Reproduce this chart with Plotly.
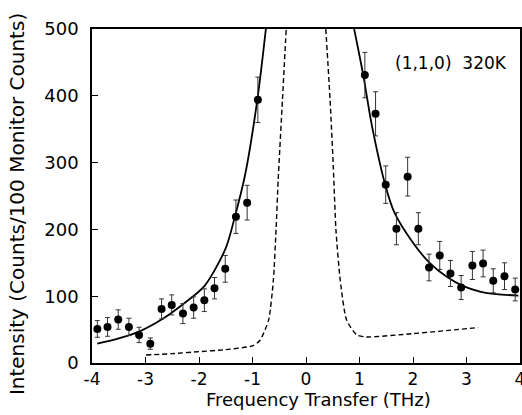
import plotly.graph_objects as go

# Measured data points (Frequency THz, Intensity, error)
data_x = [-3.90, -3.71, -3.51, -3.31, -3.12, -2.91, -2.70, -2.51, -2.30, -2.10, -1.90, -1.71, -1.51, -1.31, -1.10, -0.90,
          1.10, 1.30, 1.49, 1.69, 1.90, 2.10, 2.30, 2.50, 2.70, 2.90, 3.11, 3.31, 3.50, 3.71, 3.91]
data_y = [51, 54, 65, 54, 42, 29, 81, 87, 74, 83, 94, 112, 141, 219, 240, 394,
          431, 373, 267, 201, 279, 201, 143, 161, 134, 113, 146, 149, 123, 130, 110]
data_err = [12.5, 14, 14.5, 13, 11.5, 8.5, 15, 15, 15, 16, 17, 16, 20, 25, 26, 34,
            34, 33, 28, 24, 29, 24, 20, 21, 19.5, 18, 21, 20, 18, 20, 17]

# Solid fitted curve
fit_left_x = [-3.90, -3.50, -3.12, -2.70, -2.30, -1.90, -1.50, -1.33, -1.14, -0.91, -0.75]
fit_left_y = [29, 37, 47, 65, 88, 115, 172, 219, 281, 394, 500]
fit_right_x = [0.90, 1.07, 1.23, 1.49, 1.66, 2.01, 2.32, 2.63, 2.94, 3.25, 3.56, 3.97]
fit_right_y = [500, 431, 356, 264, 224, 179, 149, 129, 115, 107, 103, 101]

# Dashed curve
dash_left_x = [-2.99, -2.5, -2.0, -1.5, -0.99, -0.86, -0.70, -0.61, -0.56, -0.52, -0.44, -0.37]
dash_left_y = [12, 14, 17, 20, 26, 34, 64, 124, 199, 274, 394, 500]
dash_right_x = [0.37, 0.45, 0.51, 0.56, 0.64, 0.76, 0.95, 1.13, 2.0, 3.22]
dash_right_y = [500, 394, 294, 199, 124, 64, 42, 39, 44, 53]

x_ticks = [-4, -3, -2, -1, 0, 1, 2, 3, 4]
x_tick_text = ["-4", "-3", "-2", "-1", "0", "1", "2", "3", "4"]
y_ticks = [0, 100, 200, 300, 400, 500]

x_title = "Frequency Transfer (THz)"
y_title = "Intensity (Counts/100 Monitor Counts)"
label = "(1,1,0)\u00a0\u00a0320K"

FONT = "DejaVu Sans, Verdana, sans-serif"

fig = go.Figure()
for xs, ys in [(fit_left_x, fit_left_y), (fit_right_x, fit_right_y)]:
    fig.add_trace(go.Scatter(x=xs, y=ys, mode="lines",
                             line=dict(color="black", width=1.8, shape="spline", smoothing=0.8),
                             showlegend=False, hoverinfo="skip"))
for xs, ys in [(dash_left_x, dash_left_y), (dash_right_x, dash_right_y)]:
    fig.add_trace(go.Scatter(x=xs, y=ys, mode="lines",
                             line=dict(color="black", width=1.4, dash="5px,3px", shape="spline", smoothing=0.6),
                             showlegend=False, hoverinfo="skip"))
fig.add_trace(go.Scatter(x=data_x, y=data_y, mode="markers",
                         marker=dict(color="black", size=8),
                         error_y=dict(type="data", array=data_err, visible=True,
                                      color="#333", thickness=1, width=2.5),
                         showlegend=False))

fig.add_annotation(x=2.71, y=449, xref="x", yref="y", text=label, showarrow=False,
                   font=dict(family=FONT, size=17, color="#000000"))
fig.add_annotation(x=0.530, y=-0.108, xref="paper", yref="paper", text=x_title, showarrow=False,
                   xanchor="center", yanchor="middle",
                   font=dict(family=FONT, size=18, color="#000000"))
fig.add_annotation(x=-0.175, y=0.476, xref="paper", yref="paper", text=y_title, showarrow=False,
                   xanchor="center", yanchor="middle", textangle=-90,
                   font=dict(family=FONT, size=20, color="#000000"))

fig.update_layout(
    width=522, height=415,
    margin=dict(l=92, r=2, t=29, b=52, autoexpand=False),
    paper_bgcolor="white", plot_bgcolor="white",
    font=dict(family=FONT, size=17, color="black"),
    xaxis=dict(range=[-4, 4], tickvals=x_ticks, ticktext=x_tick_text,
               ticks="inside", ticklen=6, tickwidth=1.3, tickcolor="black",
               showline=True, linecolor="black", linewidth=1.5, mirror=True,
               showgrid=False, zeroline=False, ticklabelstandoff=0,
               ticklabeloverflow="allow", automargin=False,
               tickfont=dict(size=17)),
    yaxis=dict(range=[0, 500], tickvals=y_ticks,
               ticks="inside", ticklen=6, tickwidth=1.3, tickcolor="black",
               showline=True, linecolor="black", linewidth=1.5, mirror=True,
               showgrid=False, zeroline=False, ticklabelstandoff=8,
               ticklabeloverflow="allow", automargin=False,
               tickfont=dict(size=18)),
)
fig.write_html("out.html")
